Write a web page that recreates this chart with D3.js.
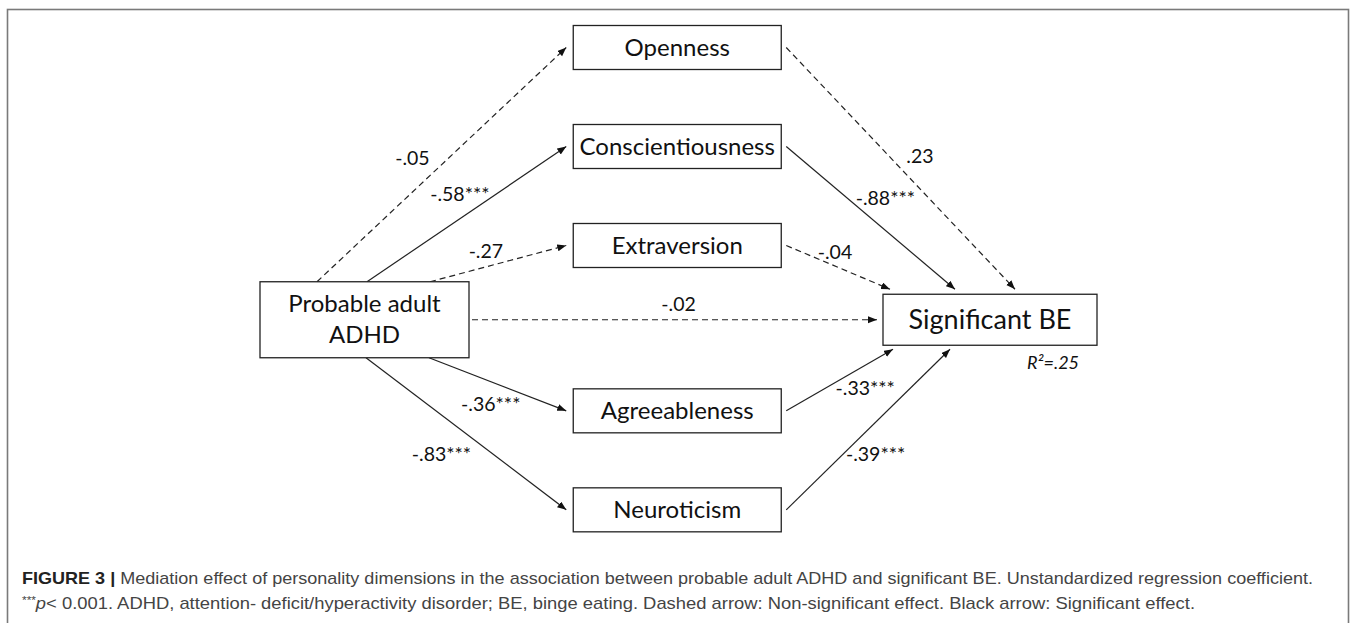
<!DOCTYPE html>
<html>
<head>
  <meta charset="utf-8">
  <script src="https://cdn.jsdelivr.net/npm/d3@7"></script>
  <style>
    body { margin: 0; background: #fff; }
    .box { fill: #fff; stroke: #222; stroke-width: 1.3; }
    .lbl { font-family: Lato, "Open Sans", sans-serif; fill: #111; }
    .path { stroke: #222; stroke-width: 1.2; fill: none; }
    .path.ns { stroke-dasharray: 6,4; }
    .cap { font-family: "Liberation Sans", Arial, sans-serif; font-size: 17px; fill: #444; }
  </style>
</head>
<body>
<script>
  // ---- data ----
  var source = ["Probable adult", "ADHD"];
  var outcome = "Significant BE";
  var mediators = ["Openness", "Conscientiousness", "Extraversion", "Agreeableness", "Neuroticism"];
  // slot of each mediator on the vertical layout (source/outcome sit on slot 2.75)
  var slots = [0, 1, 2, 3.67, 4.67];
  var aCoef = ["-.05", "-.58***", "-.27", "-.36***", "-.83***"];   // ADHD -> mediator
  var aSig  = [false, true, false, true, true];
  var bCoef = [".23", "-.88***", "-.04", "-.33***", "-.39***"];    // mediator -> BE
  var bSig  = [false, true, false, true, true];
  var direct = "-.02";
  var rSquare = "R\u00b2=.25";
  var caption1 = "Mediation effect of personality dimensions in the association between probable adult ADHD and significant BE. Unstandardized regression coefficient.";
  var caption2 = ". ADHD, attention- deficit/hyperactivity disorder; BE, binge eating. Dashed arrow: Non-significant effect. Black arrow: Significant effect.";

  // ---- layout ----
  var W = 1357, H = 623;
  var y = d3.scaleLinear().domain([0, 1]).range([47.5, 146.5]);
  var x = d3.scalePoint().domain(["src", "med", "out"]).range([364.5, 990]);
  var midSlot = 2.75;

  var medW = 208, medH = 44, srcW = 209, srcH = 76, outW = 214, outH = 51;

  // where arrows leave the source box (x offset from its left edge, top or bottom)
  var aStart = [57, 107, 170, 169, 106];
  // where arrows reach the outcome box (x offset from its left edge)
  var bEnd = [132, 72, 7, 10, 67];
  // label placement: fraction along arrow + offset, anchor
  var aLab = [{t: .52, dx: -17, dy: 5, a: "end"}, {t: .64, dx: -5, dy: 6, a: "end"},
              {t: .41, dx: 0, dy: -9, a: "middle"}, {t: .45, dx: 0, dy: 29, a: "middle"},
              {t: .64, dx: -23, dy: 6, a: "end"}];
  var bLab = [{t: .455, dx: 16, dy: 6, a: "start"}, {t: .37, dx: 7, dy: 6, a: "start"},
              {t: .47, dx: 0, dy: -7, a: "middle"}, {t: .74, dx: 0, dy: 30, a: "middle"},
              {t: .34, dx: 4, dy: 6, a: "start"}];

  var svg = d3.select("body").append("svg")
    .attr("width", W).attr("height", H);

  svg.append("defs").append("marker")
    .attr("id", "arr")
    .attr("markerUnits", "userSpaceOnUse")
    .attr("markerWidth", 10).attr("markerHeight", 8)
    .attr("refX", 9).attr("refY", 3.5)
    .attr("orient", "auto")
    .append("path").attr("d", "M0,0 L9,3.5 L0,7 Z").attr("fill", "#111");

  // outer frame
  svg.append("rect")
    .attr("x", 7.5).attr("y", 9.5)
    .attr("width", 1341).attr("height", 660)
    .attr("fill", "none").attr("stroke", "#7a7a7a").attr("stroke-width", 1.6);

  var srcCx = x("src"), srcCy = y(midSlot);
  var outCx = x("out"), outCy = y(midSlot);
  var medCx = x("med");
  var srcL = srcCx - srcW / 2, srcT = srcCy - srcH / 2, srcB = srcCy + srcH / 2;
  var outL = outCx - outW / 2, outT = outCy - outH / 2, outB = outCy + outH / 2;

  function lineLabel(p0, p1, L, txt) {
    var px = p0[0] + (p1[0] - p0[0]) * L.t + L.dx;
    var py = p0[1] + (p1[1] - p0[1]) * L.t + L.dy;
    svg.append("text").attr("class", "lbl")
      .attr("x", px).attr("y", py)
      .attr("text-anchor", L.a)
      .style("font-size", "19.5px")
      .text(txt);
  }

  mediators.forEach(function(m, i) {
    var cy = y(slots[i]);
    var below = cy > srcCy;
    // a path
    var a0 = [srcL + aStart[i], below ? srcB : srcT];
    var a1 = [medCx - medW / 2 - 7, cy];
    svg.append("line").attr("class", "path" + (aSig[i] ? "" : " ns"))
      .attr("x1", a0[0]).attr("y1", a0[1]).attr("x2", a1[0]).attr("y2", a1[1])
      .attr("marker-end", "url(#arr)");
    lineLabel(a0, a1, aLab[i], aCoef[i]);
    // b path
    var b0 = [medCx + medW / 2 + 5, cy];
    var b1 = [outL + bEnd[i], below ? outB + 4 : outT - 5];
    svg.append("line").attr("class", "path" + (bSig[i] ? "" : " ns"))
      .attr("x1", b0[0]).attr("y1", b0[1]).attr("x2", b1[0]).attr("y2", b1[1])
      .attr("marker-end", "url(#arr)");
    lineLabel(b0, b1, bLab[i], bCoef[i]);
  });

  // direct path
  var d0 = [srcL + srcW + 3, srcCy], d1 = [outL - 6, outCy];
  svg.append("line").attr("class", "path ns")
    .attr("x1", d0[0]).attr("y1", d0[1]).attr("x2", d1[0]).attr("y2", d1[1])
    .attr("marker-end", "url(#arr)");
  lineLabel(d0, d1, {t: .51, dx: 0, dy: -9, a: "middle"}, direct);

  // mediator boxes
  var med = svg.selectAll("g.med").data(mediators).enter().append("g").attr("class", "med");
  med.append("rect").attr("class", "box")
    .attr("x", medCx - medW / 2)
    .attr("y", function(d, i) { return y(slots[i]) - medH / 2; })
    .attr("width", medW).attr("height", medH);
  med.append("text").attr("class", "lbl")
    .attr("x", medCx)
    .attr("y", function(d, i) { return y(slots[i]) + 8.5; })
    .attr("text-anchor", "middle")
    .style("font-size", "24px")
    .text(function(d) { return d; });

  // source box
  svg.append("rect").attr("class", "box")
    .attr("x", srcL).attr("y", srcT).attr("width", srcW).attr("height", srcH);
  svg.append("text").attr("class", "lbl")
    .attr("text-anchor", "middle").style("font-size", "24px")
    .selectAll("tspan").data(source).enter().append("tspan")
    .attr("x", srcCx)
    .attr("y", function(d, i) { return srcCy - 8 + i * 31; })
    .text(function(d) { return d; });

  // outcome box
  svg.append("rect").attr("class", "box")
    .attr("x", outL).attr("y", outT).attr("width", outW).attr("height", outH);
  svg.append("text").attr("class", "lbl")
    .attr("x", outCx).attr("y", outCy + 9.5)
    .attr("text-anchor", "middle").style("font-size", "27px")
    .text(outcome);
  svg.append("text").attr("class", "lbl")
    .attr("x", outL + 144).attr("y", outB + 24)
    .style("font-size", "18px").style("font-style", "italic")
    .text(rSquare);

  // caption
  var c1 = svg.append("text").attr("class", "cap").attr("x", 22).attr("y", 584)
    .attr("textLength", 1291).attr("lengthAdjust", "spacingAndGlyphs");
  c1.append("tspan").style("font-weight", "bold").style("fill", "#222").text("FIGURE 3 | ");
  c1.append("tspan").text(caption1);

  var c2 = svg.append("text").attr("class", "cap").attr("x", 22).attr("y", 609)
    .attr("textLength", 1173).attr("lengthAdjust", "spacingAndGlyphs");
  c2.append("tspan").style("font-size", "11px").attr("dy", -5).text("***");
  c2.append("tspan").style("font-style", "italic").attr("dy", 5).text("p");
  c2.append("tspan").text("< 0.001" + caption2);
</script>
</body>
</html>
